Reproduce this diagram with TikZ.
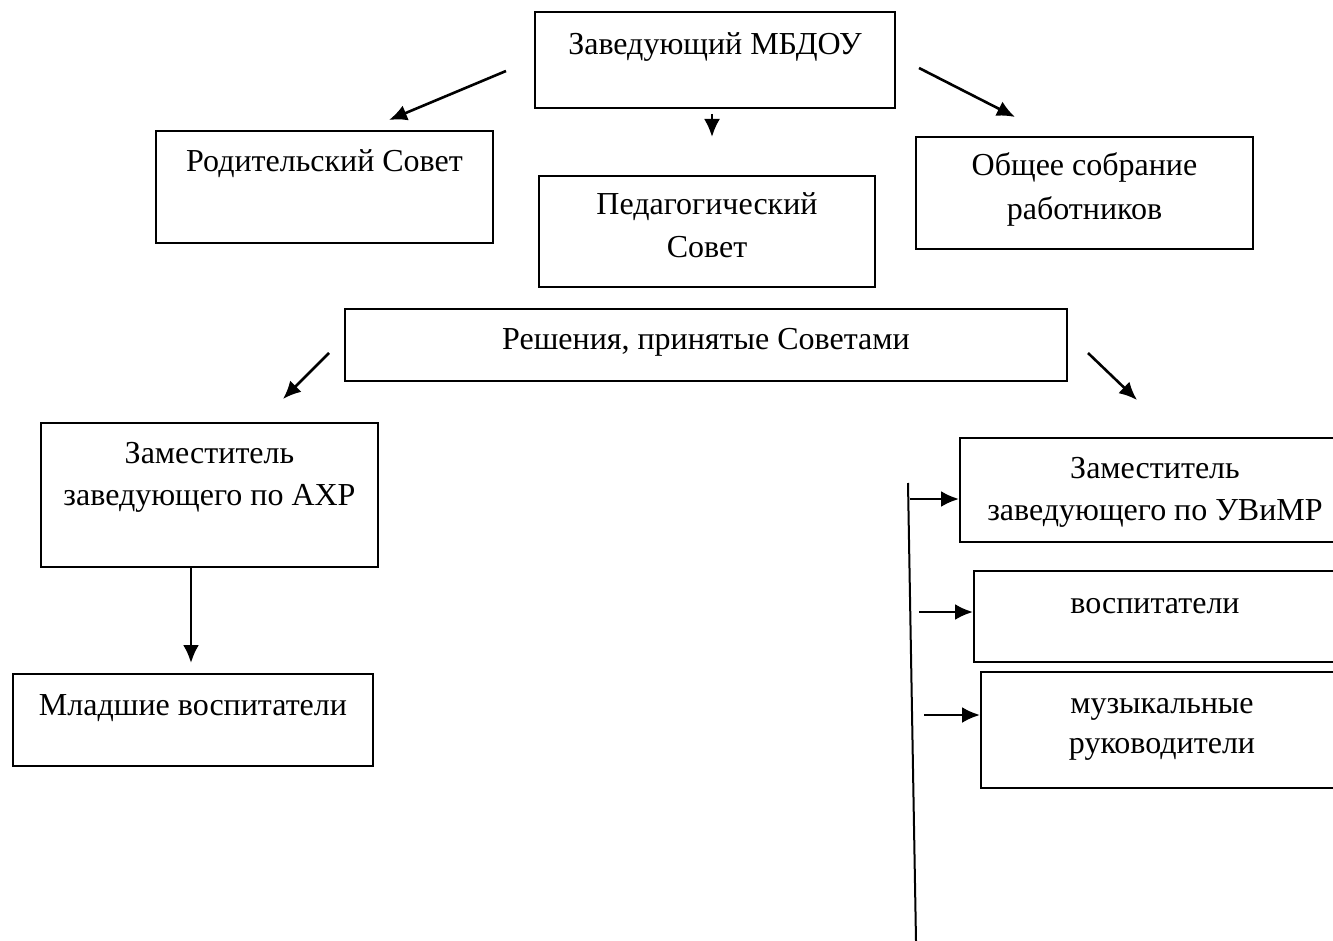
\documentclass[tikz,border=0pt]{standalone}
\usepackage{fontspec}
\setmainfont{Liberation Serif}
\usetikzlibrary{arrows.meta}

\begin{document}
\begin{tikzpicture}[x=0.5pt, y=-0.5pt, font=\fontsize{16}{21}\selectfont, >={Latex[length=9pt, width=8pt]}, line width=1pt,
  box/.style={draw, align=center, inner sep=0pt},
  link/.style={->, line width=1.3pt}]

\clip (0,0) rectangle (1333,941);

\node[box, minimum width = 180pt, minimum height = 48pt, text height = 21.5pt, text depth = 26.5pt] (head) at (715,60) {Заведующий МБДОУ};
\node[box, minimum width = 168.5pt, minimum height = 56pt, text height = 20.5pt, text depth = 35.5pt] (parents) at (324.5,187) {Родительский Совет};
\node[box, minimum width = 168pt, minimum height = 55.5pt, text height = 40.5pt, text depth = 15pt] (pedagog) at (707,231.5) {Педагогический\\Совет};
\node[box, minimum width = 168.5pt, minimum height = 56pt, text height = 41.5pt, text depth = 14.5pt] (meeting) at (1084.5,193) {Общее собрание\\[1pt]работников};

\node[box, minimum width = 361pt, minimum height = 36pt, text height = 20.5pt, text depth = 15.5pt] (decisions) at (706,345) {Решения, принятые Советами};

\node[box, minimum width = 168.5pt, minimum height = 72pt, text height = 41pt, text depth = 31pt] (ahr) at (209.5,495) {Заместитель\\заведующего по АХР};
\node[box, minimum width = 180pt, minimum height = 46pt, text height = 20.5pt, text depth = 25.5pt] (junior) at (193,720) {Младшие воспитатели};

\node[box, minimum width = 195pt, minimum height = 52pt, text height = 41pt, text depth = 11pt] (uvmr) at (1155,490) {Заместитель\\заведующего по УВиМР};
\node[box, minimum width = 181pt, minimum height = 45.5pt, text height = 21pt, text depth = 24.5pt] (teachers) at (1155,616.5) {воспитатели};
\node[box, minimum width = 181pt, minimum height = 58pt, text height = 40.5pt, text depth = 17.5pt] (music) at (1162,730) {музыкальные\\[-1pt]руководители};

\coordinate (to-parents-a) at (506,71);
\coordinate (to-parents-b) at (389,120);
\coordinate (to-pedagog-a) at (712,114);
\coordinate (to-pedagog-b) at (712,137);
\coordinate (to-meeting-a) at (919,68);
\coordinate (to-meeting-b) at (1015,117);
\coordinate (to-ahr-a) at (329,353);
\coordinate (to-ahr-b) at (283,399);
\coordinate (to-right-a) at (1088,353);
\coordinate (to-right-b) at (1137,400);
\coordinate (ahr-out) at (191,567);
\coordinate (junior-in) at (191,663);
\coordinate (bus-top) at (908,483);
\coordinate (bus-bottom) at (916,941);
\coordinate (uvmr-in) at (910,499);
\coordinate (teachers-in) at (919,612);
\coordinate (music-in) at (924,715);

\draw[link] (to-parents-a) -- (to-parents-b);
\draw[link] (to-pedagog-a) -- (to-pedagog-b);
\draw[link] (to-meeting-a) -- (to-meeting-b);
\draw[link] (to-ahr-a) -- (to-ahr-b);
\draw[link] (to-right-a) -- (to-right-b);
\draw[link] (ahr-out) -- (junior-in);

\draw (bus-top) -- (bus-bottom);
\draw[link] (uvmr-in) -- (uvmr-in -| uvmr.west);
\draw[link] (teachers-in) -- (teachers-in -| teachers.west);
\draw[link] (music-in) -- (music-in -| music.west);

\end{tikzpicture}
\end{document}
